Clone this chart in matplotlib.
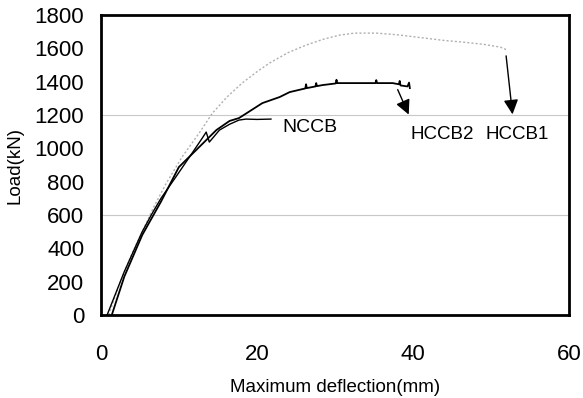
import matplotlib
matplotlib.use("Agg")
import matplotlib.pyplot as plt

plt.rcParams['font.family'] = ['Liberation Sans', 'DejaVu Sans']

# HCCB1 (light dotted curve)
hccb1_x = [1.0, 2.5, 4.0, 5.3, 6.8, 8.4, 10.4, 12.6, 14.3, 16.2, 18.1, 20.0, 21.6, 24.0, 26.3, 28.5, 30.6, 32.5, 35.3,
           38.0, 41.0, 44.0, 46.4, 49.0, 51.2, 52.0]
hccb1_y = [0, 200, 370, 500, 650, 792, 948, 1092, 1212, 1310, 1392, 1460, 1512, 1575, 1620, 1655, 1680, 1692, 1692,
           1682, 1665, 1648, 1638, 1625, 1608, 1592]

# HCCB2 (solid curve with small spikes)
hccb2_x = [1.4, 3.0, 5.3, 7.7, 10.0, 12.6, 14.8, 16.5, 17.7, 20.7, 22.9, 24.2, 26.2, 26.3, 26.4, 27.5, 27.6, 27.7,
           28.4, 30.1, 30.2, 30.3, 33.0, 35.2, 35.3, 35.4, 37.4, 38.2, 38.3, 38.4, 39.3, 39.5, 39.6]
hccb2_y = [0, 230, 480, 680, 888, 1008, 1110, 1165, 1182, 1272, 1308, 1338, 1360, 1385, 1362, 1372, 1392, 1374,
           1380, 1390, 1412, 1392, 1392, 1392, 1410, 1392, 1392, 1385, 1405, 1378, 1372, 1395, 1362]

# NCCB (solid curve)
nccb_x = [0.8, 3.0, 5.3, 6.6, 7.7, 9.6, 11.7, 13.0, 13.5, 13.9, 15.2, 16.5, 17.7, 18.6, 20.0, 21.8]
nccb_y = [0, 260, 500, 612, 700, 828, 972, 1062, 1098, 1038, 1110, 1145, 1170, 1176, 1174, 1176]

xticks = [0, 20, 40, 60]
yticks = list(range(0, 1801, 200))

fig = plt.figure(figsize=(5.83, 3.98), dpi=100)
ax = fig.add_axes([0.173, 0.2085, 0.803, 0.7535])

for gy in [600, 1200]:
    ax.axhline(gy, color='#c8c8c8', lw=0.8, zorder=0)

ax.plot(hccb1_x, hccb1_y, color='#b0b0b0', lw=1.0, ls=(0, (1.5, 1.5)), zorder=2)
ax.plot(hccb2_x, hccb2_y, color='black', lw=1.3, zorder=3)
ax.plot(nccb_x, nccb_y, color='black', lw=1.0, zorder=3)

# arrows
ax.annotate('', xy=(39.6, 1188), xytext=(37.9, 1368),
            arrowprops=dict(arrowstyle='-|>', color='black', lw=1.0, mutation_scale=22))
ax.annotate('', xy=(52.8, 1188), xytext=(51.9, 1572),
            arrowprops=dict(arrowstyle='-|>', color='black', lw=1.0, mutation_scale=22))

ax.text(23.2, 1128, 'NCCB', ha='left', va='center', fontsize=14)
ax.text(43.7, 1085, 'HCCB2', ha='center', va='center', fontsize=13.5)
ax.text(53.3, 1085, 'HCCB1', ha='center', va='center', fontsize=13.5)

ax.set_xlim(0, 60)
ax.set_ylim(0, 1800)
ax.set_xticks(xticks)
ax.set_yticks(yticks)
ax.tick_params(length=0, labelsize=16)
ax.tick_params(axis='y', pad=12)
ax.tick_params(axis='x', pad=21)
for s in ax.spines.values():
    s.set_linewidth(2.0)

ax.set_xlabel('Maximum deflection(mm)', fontsize=13.5, labelpad=10)
ax.set_ylabel('Load(kN)', fontsize=13.5, labelpad=8)

fig.savefig('out.png', dpi=100)
